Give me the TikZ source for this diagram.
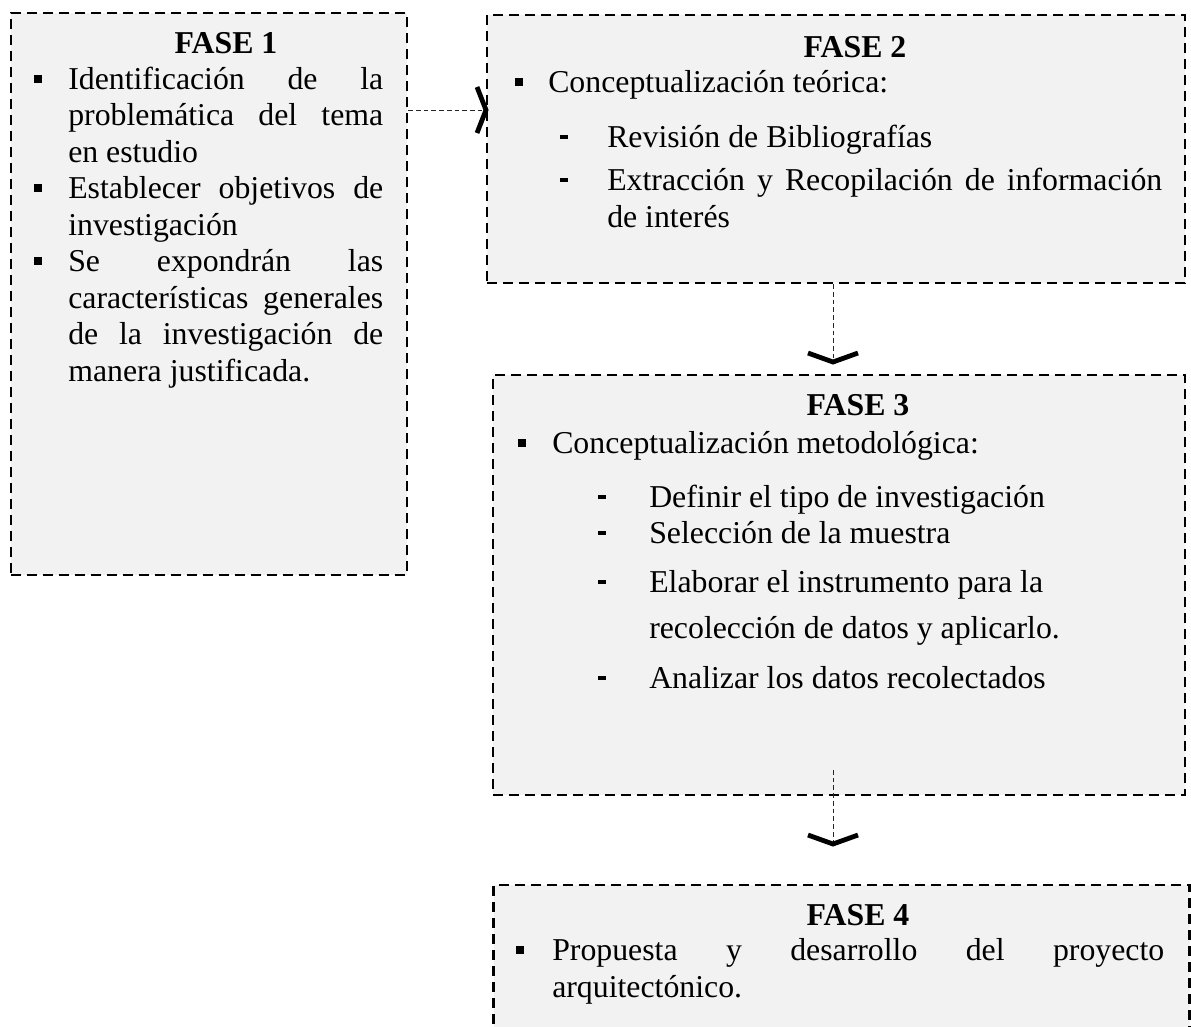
\documentclass[tikz,border=0pt]{standalone}
\usepackage{fontspec}
\setmainfont{Liberation Serif}
\usetikzlibrary{calc}
\definecolor{boxgray}{HTML}{F2F2F2}
\newcommand\jline[2]{\makebox[#1][s]{#2}}
\begin{document}
\begin{tikzpicture}[x=0.75pt,y=-0.75pt,
 box/.style={draw=black, line width=1.8pt, dash pattern=on 7.5pt off 4.5pt, fill=boxgray, inner sep=0pt, rectangle},
 conn/.style={draw=black!85, line width=0.75pt, dash pattern=on 3.5pt off 2.3pt},
 chev/.style={draw=black, line width=3.6pt, line join=miter, line cap=butt},
 txt/.style={anchor=base west, inner sep=0pt, font=\fontsize{23.85pt}{27pt}\selectfont},
 ttl/.style={anchor=base, inner sep=0pt, font=\fontsize{23.85pt}{27pt}\selectfont\bfseries},
 sq/.style={fill=black, inner sep=0pt, minimum size=6pt, rectangle},
 dsh/.style={fill=black, inner sep=0pt, minimum width=6pt, minimum height=3pt, rectangle}]

\useasboundingbox (0,0) rectangle (1191,1026);
\clip (0,0) rectangle (1191,1026);
\fill[white] (0,0) rectangle (1191,1026);

% boxes
\node[box, minimum width=297pt, minimum height=421.5pt] (f1) at (209,294) {};
\node[box, minimum width=523.5pt, minimum height=201pt] (f2) at (836,149) {};
\node[box, minimum width=519pt, minimum height=315pt] (f3) at (839,585) {};
\node[box, minimum width=522pt, minimum height=131.25pt] (f4) at (841.5,972.5) {};

% connectors
\coordinate (c12tip) at (486,110);
\coordinate (c23tip) at (833,362);
\coordinate (c34start) at (833,770);
\coordinate (c34tip) at (833,844);
\draw[conn] (f1.east |- c12tip) -- (c12tip);
\draw[chev] ([shift={(-9,-23)}]c12tip) -- (c12tip) -- ([shift={(-9,23)}]c12tip);
\draw[conn] (c23tip |- f2.south) -- (c23tip);
\draw[chev] ([shift={(-25,-9)}]c23tip) -- (c23tip) -- ([shift={(25,-9)}]c23tip);
\draw[conn] (c34start) -- (c34tip);
\draw[chev] ([shift={(-25,-9)}]c34tip) -- (c34tip) -- ([shift={(25,-9)}]c34tip);

% FASE 1
\node[ttl] (t1) at (226,53) {FASE 1};
\node[sq] (b1a) at (38,78.5) {};
\node[sq] (b1b) at (38,188) {};
\node[sq] (b1c) at (38,261) {};
\node[txt] (l1a) at (68,89) {\jline{236.25pt}{Identificación de la}};
\node[txt] (l1b) at (68,125.5) {\jline{236.25pt}{problemática del tema}};
\node[txt] (l1c) at (68,162) {en estudio};
\node[txt] (l1d) at (68,198.5) {\jline{236.25pt}{Establecer objetivos de}};
\node[txt] (l1e) at (68,235) {investigación};
\node[txt] (l1f) at (68,271.5) {\jline{236.25pt}{Se expondrán las}};
\node[txt] (l1g) at (68,308) {\jline{236.25pt}{características generales}};
\node[txt] (l1h) at (68,344.5) {\jline{236.25pt}{de la investigación de}};
\node[txt] (l1i) at (68,381) {manera justificada.};

% FASE 2
\node[ttl] (t2) at (855,57) {FASE 2};
\node[sq] (b2a) at (519,81.5) {};
\node[txt] (l2a) at (548,92) {Conceptualización teórica:};
\node[dsh] (d2a) at (564,137) {};
\node[txt] (l2b) at (607,147) {Revisión de Bibliografías};
\node[dsh] (d2b) at (564,180) {};
\node[txt] (l2c) at (607,190) {\jline{416.25pt}{Extracción y Recopilación de información}};
\node[txt] (l2d) at (607,227) {de interés};

% FASE 3
\node[ttl] (t3) at (858,415) {FASE 3};
\node[sq] (b3a) at (522,442.5) {};
\node[txt] (l3a) at (552,453) {Conceptualización metodológica:};
\node[dsh] (d3a) at (602,497) {};
\node[txt] (l3b) at (649,507) {Definir el tipo de investigación};
\node[dsh] (d3b) at (602,533) {};
\node[txt] (l3c) at (649,543) {Selección de la muestra};
\node[dsh] (d3c) at (602,582) {};
\node[txt] (l3d) at (649,592) {Elaborar el instrumento para la};
\node[txt] (l3e) at (649,638) {recolección de datos y aplicarlo.};
\node[dsh] (d3d) at (602,678) {};
\node[txt] (l3f) at (649,688) {Analizar los datos recolectados};

% FASE 4
\node[ttl] (t4) at (858,925) {FASE 4};
\node[sq] (b4a) at (520,949.5) {};
\node[txt] (l4a) at (552,960) {\jline{459pt}{Propuesta y desarrollo del proyecto}};
\node[txt] (l4b) at (552,997) {arquitectónico.};
\end{tikzpicture}
\end{document}
